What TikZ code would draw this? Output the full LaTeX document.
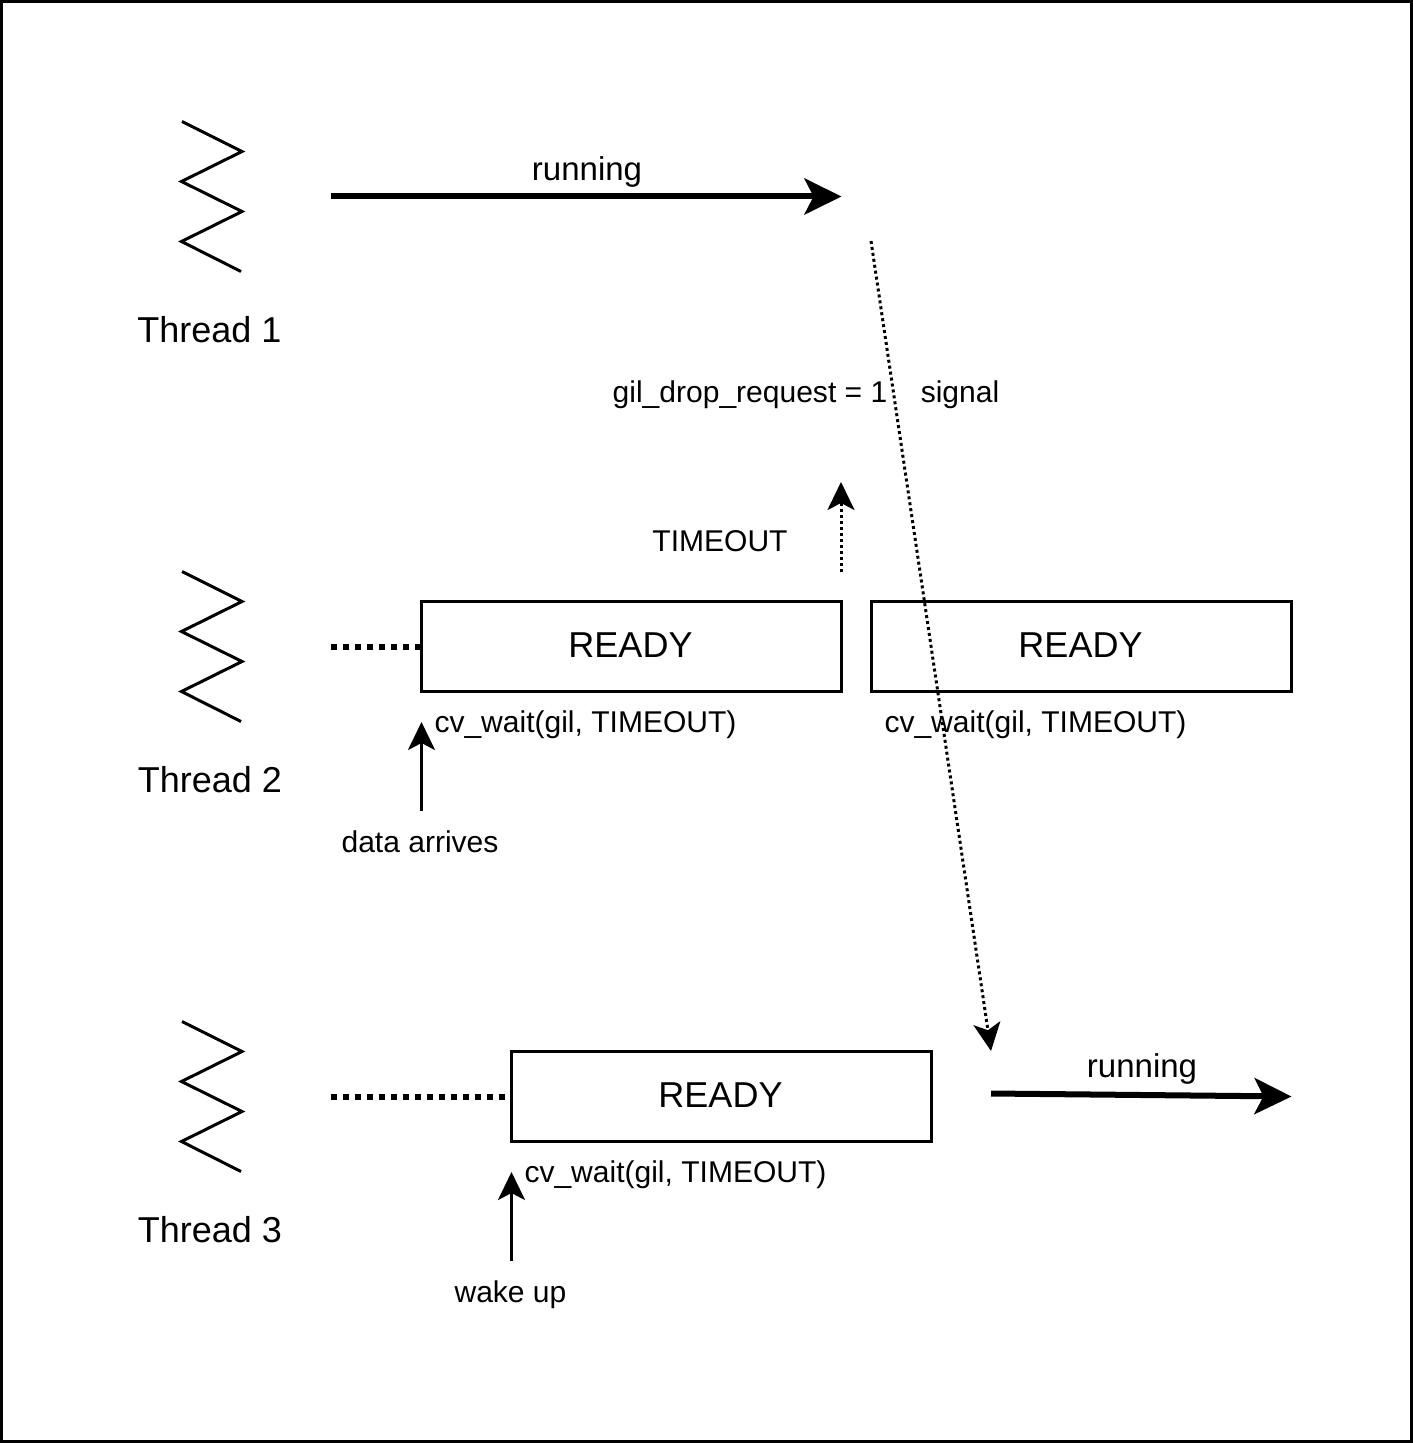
\documentclass[tikz,border=0pt]{standalone}
\usepackage{fontspec}
\setmainfont{Liberation Sans}
\usetikzlibrary{arrows.meta}

\tikzset{
    bigtext/.style={inner sep=0pt, anchor=base, font=\fontsize{10.24}{12}\selectfont},
    midtext/.style={inner sep=0pt, anchor=base, font=\fontsize{9.39}{11}\selectfont},
    smalltext/.style={inner sep=0pt, anchor=base, font=\fontsize{8.54}{10}\selectfont},
    readybox/.style={draw=black, fill=white, line width=0.03cm, inner sep=0pt, minimum width=4.2cm, minimum height=0.9cm, text depth=0.02cm, font=\fontsize{10.24}{12}\selectfont},
    thintip/.style={-{Stealth[length=0.28cm, width=0.27cm, inset=0.07cm]}, line width=0.03cm},
    thicktip/.style={-{Stealth[length=0.37cm, width=0.36cm, inset=0.09cm]}, line width=0.06cm},
    thindots/.style={dash pattern=on 0.03cm off 0.03cm},
    thickdots/.style={line width=0.06cm, dash pattern=on 0.06cm off 0.06cm},
    threadmark/.pic={
        \draw[line width=0.03cm] (1, 0) -- (61, 30) -- (0.5, 60) -- (61, 90) -- (0.5, 120) -- (60, 150);
    }
}

\begin{document}
\begin{tikzpicture}[x=0.01cm, y=-0.01cm]
    \useasboundingbox (0, 0) rectangle (1413, 1443);
    \draw[line width=0.03cm, fill=white] (1.5, 1.5) rectangle (1411.5, 1441.5);

    \pic (mark1) at (181, 121.5) {threadmark};
    \pic (mark2) at (181, 571.5) {threadmark};
    \pic (mark3) at (181, 1021.5) {threadmark};
    \node[bigtext] (thread1) at (209.5, 342.5) {Thread 1};
    \node[bigtext] (thread2) at (210, 792) {Thread 2};
    \node[bigtext] (thread3) at (210, 1242) {Thread 3};

    \node[readybox] (ready1) at (631.5, 646.5) {\hspace{-0.02cm}READY};
    \node[readybox] (ready2) at (1081.5, 646.5) {\hspace{-0.02cm}READY};
    \node[readybox] (ready3) at (721.5, 1096.5) {\hspace{-0.02cm}READY};

    \node[midtext] (run1) at (587, 181) {running};
    \node[midtext] (run2) at (1142, 1077) {running};
    \node[smalltext] (drop) at (750, 403) {gil\_drop\_request = 1};
    \node[smalltext] (signal) at (960, 403) {signal};
    \node[smalltext] (timeout) at (720, 551) {TIMEOUT};
    \node[smalltext] (wait1) at (585.5, 732) {cv\_wait(gil, TIMEOUT)};
    \node[smalltext] (wait2) at (1035.5, 732) {cv\_wait(gil, TIMEOUT)};
    \node[smalltext] (wait3) at (675.5, 1182) {cv\_wait(gil, TIMEOUT)};
    \node[smalltext] (data) at (420, 852) {data arrives};
    \node[smalltext] (wake) at (510.5, 1302) {wake up};

    \coordinate (run1a) at (331, 196.5);
    \coordinate (run1b) at (841.5, 196.5);
    \coordinate (run2a) at (991, 1093.5);
    \coordinate (run2b) at (1291.5, 1096.5);
    \coordinate (sigA) at (871, 241);
    \coordinate (sigB) at (991, 1051);
    \coordinate (outA) at (841, 572);
    \coordinate (outB) at (841, 482);
    \coordinate (idle2) at (331, 646.5);
    \coordinate (idle3) at (331, 1096.5);
    \coordinate (dataA) at (421.5, 811);
    \coordinate (dataB) at (421.5, 722);
    \coordinate (wakeA) at (511.5, 1261);
    \coordinate (wakeB) at (511.5, 1172);

    \draw[thicktip] (run1a) -- (run1b);
    \draw[thicktip] (run2a) -- (run2b);
    \draw[thintip, thindots] (sigA) -- (sigB);
    \draw[thintip, thindots] (outA) -- (outB);
    \draw[thickdots] (idle2) -- (ready1.west);
    \draw[thickdots] (idle3) -- (ready3.west);
    \draw[thintip] (dataA) -- (dataB);
    \draw[thintip] (wakeA) -- (wakeB);
\end{tikzpicture}
\end{document}
